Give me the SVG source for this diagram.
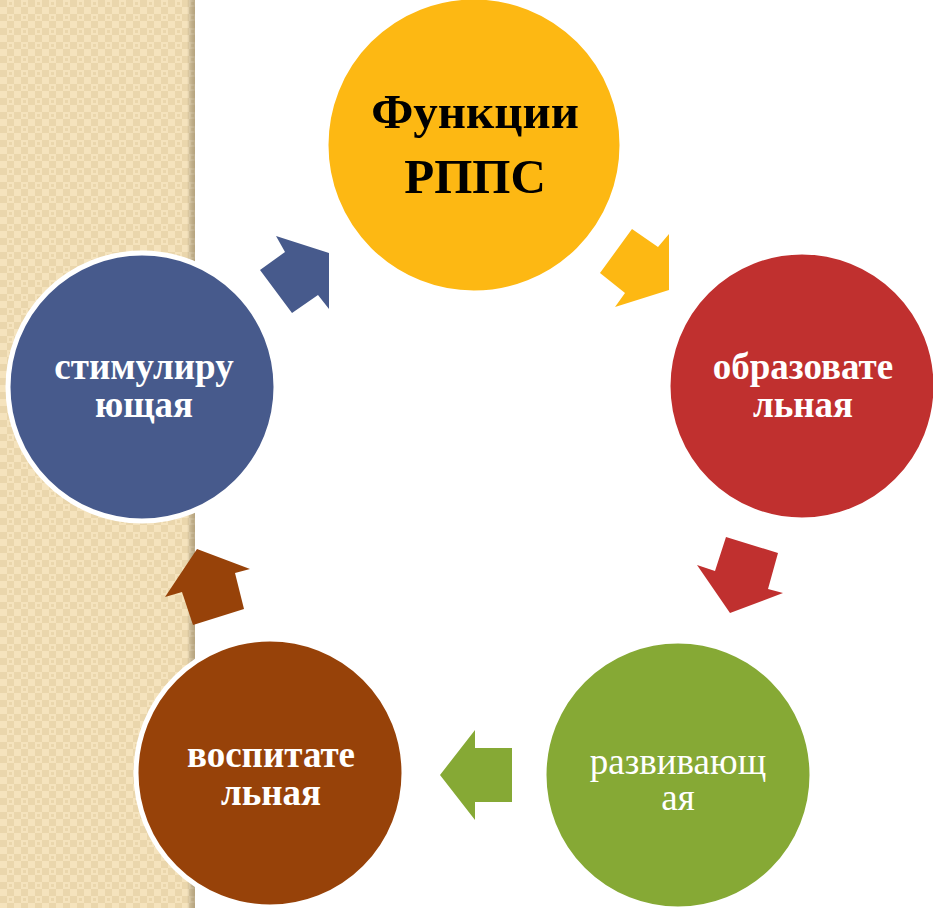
<svg xmlns="http://www.w3.org/2000/svg" width="933" height="908" viewBox="0 0 933 908">
<defs>
<pattern id="chk" width="14" height="14" patternUnits="userSpaceOnUse">
<rect width="14" height="14" fill="#F5E3BD"/>
<rect x="0" y="0" width="7" height="7" fill="#EAD6AC"/>
<rect x="7" y="7" width="7" height="7" fill="#EAD6AC"/>
<rect x="9" y="2" width="3" height="3" fill="#EAD6AC"/>
<rect x="2" y="9" width="3" height="3" fill="#F5E3BD"/>
</pattern>
<linearGradient id="shade" x1="0" x2="1" y1="0" y2="0">
<stop offset="0" stop-color="#000" stop-opacity="0"/>
<stop offset="1" stop-color="#6b5a3a" stop-opacity="0.4"/>
</linearGradient>
</defs>
<style>
.node circle{stroke:#fff;stroke-width:5}
.t{font-family:"Liberation Serif","Times New Roman",serif;text-anchor:middle}
.b{font-weight:bold}
.w{fill:#fff;font-size:37px}
</style>
<rect width="933" height="908" fill="#fff"/>
<g id="strip">
<rect x="0" y="0" width="195" height="908" fill="url(#chk)"/>
<rect x="187" y="0" width="8" height="908" fill="url(#shade)"/>
</g>
<g id="connectors">
<polygon fill="#FDB813" points="632,229 658,247 669,234 669,290 615,307 625,293 600,273"/>
<polygon fill="#C0302F" points="726,537 778,553 768,589 783,593 730,613 697,565 715,571"/>
<polygon fill="#86A935" points="440,775 475,730 475,748 512,748 512,802 475,802 475,820"/>
<polygon fill="#974209" points="197,549 250,569 235,573 244,609 193,625 182,592 165,597"/>
<polygon fill="#475A8C" points="276,236 329,253 329,309 318,295 292,313 260,270 285,252"/>
</g>
<g id="n-center" class="node">
<circle cx="474" cy="145" r="148" fill="#FDB813"/>
<text class="t b" x="475" y="128" font-size="49" fill="#000">Функции</text>
<text class="t b" x="475" y="193" font-size="49" fill="#000">РППС</text>
</g>
<g id="n-obraz" class="node">
<circle cx="802" cy="386" r="134" fill="#C0302F"/>
<text class="t b w" x="803" y="379">образовате</text>
<text class="t b w" x="803" y="417">льная</text>
</g>
<g id="n-razv" class="node">
<circle cx="678" cy="775" r="134" fill="#86A935"/>
<text class="t w" x="678" y="774">развивающ</text>
<text class="t w" x="678" y="810">ая</text>
</g>
<g id="n-vosp" class="node">
<circle cx="270" cy="773" r="134" fill="#974209"/>
<text class="t b w" x="271" y="767">воспитате</text>
<text class="t b w" x="271" y="805">льная</text>
</g>
<g id="n-stim" class="node">
<circle cx="142" cy="387" r="134" fill="#475A8C"/>
<text class="t b w" x="144" y="379">стимулиру</text>
<text class="t b w" x="144" y="417">ющая</text>
</g>
</svg>
